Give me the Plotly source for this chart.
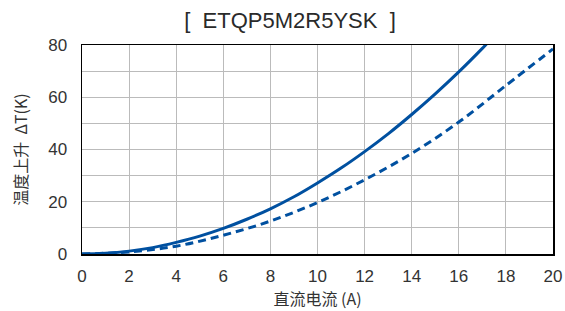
import plotly.graph_objects as go

current_a = [0, 1, 2, 3, 4, 5, 6, 7, 8, 9, 10, 11, 12, 13, 14, 15, 16, 17, 17.2]
rise_solid = [0, 0.27, 1.1, 2.45, 4.45, 6.85, 9.8, 13.3, 17.3, 21.9, 27.2, 32.9, 39.2, 46.0, 53.4, 61.3, 69.7, 78.7, 80.6]
current_b = [0, 2, 4, 6, 8, 10, 12, 14, 16, 18, 20]
rise_dashed = [0, 0.8, 3.0, 7.2, 12.6, 19.7, 28.4, 38.5, 50.5, 64.5, 78.5]

x_ticks = list(range(0, 21, 2))
y_grid = [0, 10, 20, 30, 40, 50, 60, 70, 80]
y_labels = ["0", "", "20", "", "40", "", "60", "", "80"]

blue = "#0050A0"
latin = "Liberation Sans, Arial, sans-serif"
cjk = "Noto Sans CJK SC, sans-serif"

fig = go.Figure()
fig.add_trace(go.Scatter(x=current_a, y=rise_solid, mode="lines",
                         line=dict(color=blue, width=3, shape="spline", smoothing=1.0), showlegend=False))
fig.add_trace(go.Scatter(x=current_b, y=rise_dashed, mode="lines",
                         line=dict(color=blue, width=3, dash="8px,5px", shape="spline", smoothing=1.0), showlegend=False))

fig.update_layout(
    width=565, height=311,
    margin=dict(l=82, r=12, t=45, b=57),
    paper_bgcolor="white", plot_bgcolor="white",
    font=dict(family=latin, color="#333333", size=16),
    title=dict(text="[  ETQP5M2R5YSK  ]", x=290 / 565, xanchor="center", y=1 - 20 / 311, yanchor="middle",
               font=dict(size=22, color="#2a2a2a", family=latin)),
)
fig.update_xaxes(range=[0, 20], tickvals=x_ticks, showgrid=True, gridcolor="#BBBBBB", gridwidth=1,
                 showline=True, linecolor="black", linewidth=1.5, mirror=True, ticks="",
                 zeroline=False, automargin=False, ticklabelstandoff=6, ticklabeloverflow="allow",
                 title=dict(text="直流电流 (A)", font=dict(size=16, family=cjk, color="#333333"), standoff=8),
                 tickfont=dict(size=17, color="#333333"))
fig.update_yaxes(range=[0, 80], tickvals=y_grid, ticktext=y_labels,
                 showgrid=True, gridcolor="#BBBBBB", gridwidth=1,
                 showline=True, linecolor="black", linewidth=1.5, mirror=True, ticks="",
                 zeroline=False, automargin=False, ticklabelstandoff=10,
                 title=dict(text="温度上升  ΔT(K)", font=dict(size=16, family=cjk, color="#333333"), standoff=16),
                 tickfont=dict(size=17, color="#333333"))

fig.write_html("out.html", config={"displayModeBar": False, "staticPlot": True},
               post_script="document.body.style.margin='0';document.body.style.overflow='hidden';")
